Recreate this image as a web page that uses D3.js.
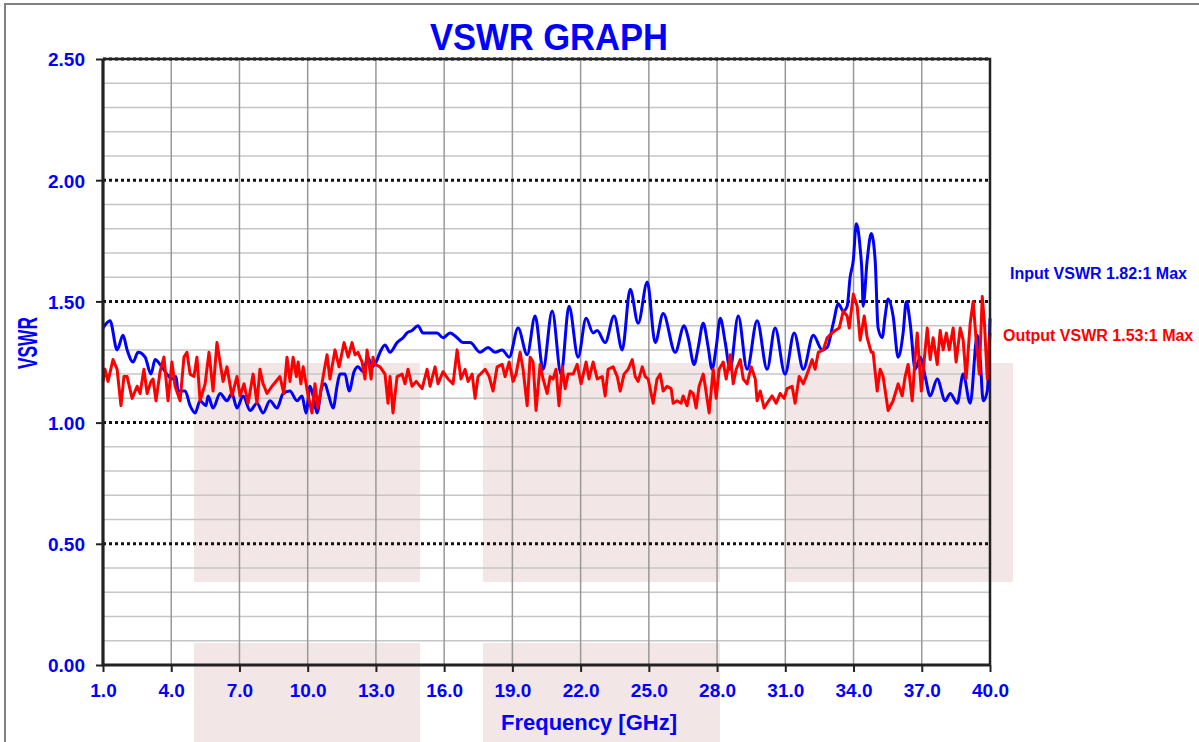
<!DOCTYPE html>
<html>
<head>
<meta charset="utf-8">
<script src="https://cdn.jsdelivr.net/npm/d3@7"></script>
<style>
  body { margin: 0; background: #fff; }
  text { font-family: "Liberation Sans", Arial, sans-serif; font-weight: bold; }
</style>
</head>
<body>
<svg id="chart" width="1199" height="742"></svg>
<script>
// tick values
const xTicks = [1, 4, 7, 10, 13, 16, 19, 22, 25, 28, 31, 34, 37, 40]
const yMajor = [0, 0.5, 1.0, 1.5, 2.0, 2.5]
const yMinor = [0.1, 0.2, 0.3, 0.4, 0.6, 0.7, 0.8, 0.9, 1.1, 1.2, 1.3, 1.4, 1.6, 1.7, 1.8, 1.9, 2.1, 2.2, 2.3, 2.4]

// Input VSWR (blue) - frequency [GHz] / vswr
const inputFreq = [1.00,1.31,1.62,1.88,2.06,2.32,2.54,2.85,3.11,3.29,3.51,3.81,4.03,4.21,4.30,4.61,4.83,5.05,5.27,5.53,
  5.62,5.84,6.15,6.45,6.67,6.89,7.16,7.47,7.77,8.04,8.34,8.65,8.92,9.22,9.53,9.75,9.93,10.10,10.24,10.41,
  10.63,10.76,10.90,11.12,11.29,11.42,11.64,11.82,12.04,12.21,12.43,12.65,12.83,13.01,13.18,13.40,13.62,13.93,14.19,14.37,
  14.59,14.85,15.07,15.38,15.69,15.95,16.26,16.57,16.83,17.14,17.58,17.93,18.24,18.55,18.86,19.25,19.65,20.00,20.35,20.75,
  21.14,21.49,21.89,22.24,22.55,22.73,23.08,23.47,23.83,24.18,24.53,24.93,25.28,25.63,26.16,26.55,26.73,26.99,27.17,27.39,
  27.61,27.78,27.96,28.14,28.36,28.57,28.93,29.32,29.76,30.20,30.55,30.99,31.39,31.79,32.23,32.62,32.84,33.11,33.33,33.55,
  33.72,33.85,33.99,34.12,34.29,34.38,34.42,34.60,34.78,34.95,35.08,35.26,35.39,35.52,35.74,35.96,36.18,36.32,36.49,36.71,
  36.93,37.15,37.37,37.68,38.03,38.25,38.56,38.82,39.13,39.44,39.57,39.70,39.88,40.00]
const inputVswr = [1.39,1.42,1.30,1.36,1.30,1.25,1.29,1.27,1.20,1.26,1.24,1.20,1.18,1.19,1.13,1.13,1.07,1.04,1.09,1.07,
  1.11,1.06,1.12,1.09,1.12,1.06,1.11,1.05,1.08,1.04,1.09,1.06,1.12,1.13,1.09,1.11,1.04,1.15,1.11,1.04,
  1.15,1.16,1.12,1.06,1.15,1.20,1.20,1.13,1.21,1.23,1.21,1.27,1.23,1.25,1.29,1.32,1.29,1.33,1.35,1.37,
  1.38,1.40,1.37,1.37,1.37,1.35,1.37,1.35,1.33,1.33,1.29,1.31,1.29,1.30,1.27,1.39,1.28,1.44,1.22,1.46,
  1.20,1.48,1.27,1.43,1.37,1.38,1.33,1.44,1.30,1.55,1.41,1.58,1.33,1.45,1.29,1.40,1.35,1.24,1.31,1.41,
  1.31,1.22,1.31,1.43,1.33,1.22,1.44,1.22,1.42,1.22,1.39,1.20,1.37,1.22,1.36,1.30,1.31,1.41,1.49,1.46,
  1.48,1.60,1.67,1.82,1.72,1.60,1.48,1.67,1.78,1.67,1.39,1.35,1.44,1.51,1.44,1.27,1.37,1.50,1.41,1.22,
  1.27,1.19,1.11,1.18,1.09,1.12,1.08,1.20,1.08,1.36,1.26,1.09,1.13,1.43]

// Output VSWR (red)
const outputFreq = [1.00,1.09,1.22,1.44,1.62,1.79,1.92,2.06,2.28,2.50,2.63,2.80,2.94,3.11,3.20,3.33,3.51,3.68,3.86,4.03,
  4.17,4.39,4.56,4.69,4.83,5.00,5.13,5.27,5.49,5.66,5.84,6.01,6.28,6.45,6.67,6.89,7.03,7.20,7.38,7.60,
  7.77,7.90,8.04,8.21,8.43,8.78,8.95,9.09,9.22,9.36,9.50,9.58,9.70,9.80,10.02,10.19,10.32,10.45,10.68,10.85,
  10.98,11.20,11.38,11.60,11.78,11.95,12.08,12.21,12.39,12.52,12.61,12.79,12.87,12.96,13.18,13.40,13.53,13.62,13.75,13.93,
  14.15,14.28,14.41,14.59,14.77,15.03,15.25,15.38,15.60,15.73,15.95,16.17,16.39,16.57,16.74,16.92,17.05,17.23,17.36,17.49,
  17.80,17.98,18.15,18.33,18.55,18.68,18.86,19.03,19.16,19.34,19.47,19.65,19.78,19.91,20.04,20.22,20.35,20.53,20.66,20.79,
  20.92,21.05,21.19,21.32,21.45,21.67,21.85,22.02,22.24,22.37,22.55,22.73,22.95,23.08,23.21,23.43,23.61,23.74,23.91,24.09,
  24.27,24.40,24.53,24.71,24.84,24.97,25.19,25.36,25.50,25.63,25.80,25.98,26.07,26.24,26.42,26.51,26.68,26.82,26.95,27.08,
  27.21,27.39,27.48,27.65,27.83,27.96,28.09,28.27,28.40,28.58,28.71,28.84,29.02,29.15,29.32,29.50,29.68,29.76,29.90,30.07,
  30.20,30.42,30.60,30.77,30.95,31.08,31.30,31.43,31.61,31.79,31.96,32.18,32.31,32.45,32.67,32.84,33.06,33.19,33.37,33.55,
  33.72,33.81,33.99,34.16,34.29,34.47,34.60,34.78,34.86,35.04,35.17,35.30,35.52,35.74,35.96,36.14,36.27,36.40,36.58,36.71,
  36.80,36.98,37.11,37.24,37.37,37.50,37.68,37.81,37.94,38.08,38.21,38.38,38.51,38.69,38.82,38.95,39.13,39.26,39.40,39.53,
  39.66,39.75,39.88,40.00]
const outputVswr = [1.17,1.22,1.17,1.26,1.22,1.07,1.19,1.19,1.10,1.15,1.12,1.22,1.12,1.17,1.18,1.09,1.21,1.27,1.09,1.25,
  1.15,1.09,1.27,1.29,1.20,1.19,1.27,1.09,1.16,1.29,1.13,1.33,1.17,1.23,1.11,1.19,1.11,1.16,1.08,1.20,
  1.08,1.22,1.16,1.12,1.15,1.19,1.12,1.27,1.17,1.27,1.19,1.25,1.16,1.23,1.11,1.04,1.16,1.06,1.19,1.28,
  1.18,1.30,1.23,1.33,1.27,1.33,1.28,1.29,1.25,1.18,1.30,1.18,1.27,1.24,1.23,1.20,1.08,1.19,1.04,1.19,
  1.20,1.16,1.22,1.15,1.17,1.14,1.22,1.15,1.23,1.16,1.21,1.18,1.16,1.30,1.18,1.22,1.17,1.20,1.10,1.19,
  1.22,1.19,1.13,1.23,1.24,1.19,1.25,1.17,1.20,1.29,1.22,1.07,1.27,1.25,1.05,1.24,1.18,1.12,1.19,1.18,
  1.22,1.07,1.23,1.14,1.20,1.20,1.24,1.16,1.25,1.18,1.25,1.18,1.19,1.11,1.22,1.23,1.19,1.13,1.20,1.22,
  1.26,1.19,1.17,1.23,1.19,1.18,1.08,1.18,1.20,1.13,1.15,1.14,1.08,1.09,1.08,1.11,1.07,1.13,1.12,1.06,
  1.15,1.20,1.15,1.04,1.22,1.10,1.22,1.25,1.18,1.28,1.16,1.22,1.26,1.18,1.16,1.23,1.18,1.09,1.13,1.06,
  1.08,1.11,1.08,1.12,1.10,1.14,1.15,1.08,1.19,1.16,1.20,1.26,1.22,1.29,1.30,1.35,1.37,1.38,1.39,1.46,
  1.44,1.39,1.53,1.48,1.34,1.44,1.35,1.29,1.29,1.13,1.22,1.19,1.05,1.09,1.16,1.11,1.19,1.24,1.09,1.27,
  1.37,1.13,1.26,1.39,1.26,1.35,1.24,1.38,1.30,1.37,1.30,1.39,1.25,1.39,1.34,1.18,1.41,1.50,1.33,1.20,
  1.52,1.42,1.18,1.37]

const inputLabel = "Input VSWR 1.82:1 Max"
const outputLabel = "Output VSWR 1.53:1 Max"

const blue = "#0000ff", red = "#ff0000"

const svg = d3.select("#chart")

const x = d3.scaleLinear().domain([1, 40]).range([103, 990])
const y = d3.scaleLinear().domain([0, 2.5]).range([665, 59])

// outer chart frame
svg.append("rect")
  .attr("x", 5).attr("y", 4).attr("width", 1300).attr("height", 800)
  .attr("fill", "#fff").attr("stroke", "#808080").attr("stroke-width", 2)

// faint watermark blocks behind the plot
const wm = svg.append("g").attr("fill", "#f3e6e6")
;[[194, 363, 226, 219], [194, 643, 226, 110], [483, 363, 237, 219], [483, 643, 237, 110], [785, 363, 228, 219]]
  .forEach(r => wm.append("rect").attr("x", r[0]).attr("y", r[1]).attr("width", r[2]).attr("height", r[3]))

const grid = svg.append("g")

grid.selectAll(".minor")
  .data(yMinor)
  .join("line")
  .attr("x1", x(1)).attr("x2", x(40))
  .attr("y1", d => y(d)).attr("y2", d => y(d))
  .attr("stroke", "#c6c6c6").attr("stroke-width", 1.5)

grid.selectAll(".vert")
  .data(xTicks.slice(1, -1))
  .join("line")
  .attr("x1", d => x(d)).attr("x2", d => x(d))
  .attr("y1", y(0)).attr("y2", y(2.5))
  .attr("stroke", "#999").attr("stroke-width", 1.5)

grid.selectAll(".major")
  .data(yMajor.slice(1))
  .join("line")
  .attr("x1", x(1)).attr("x2", x(40))
  .attr("y1", d => y(d)).attr("y2", d => y(d))
  .attr("stroke", "#111").attr("stroke-width", 3)
  .attr("stroke-dasharray", "3,3")

// data lines
const blueLine = d3.line()
  .x(d => x(d[0])).y(d => y(d[1]))
  .curve(d3.curveMonotoneX)
const redLine = d3.line()
  .x(d => x(d[0])).y(d => y(d[1]))

svg.append("path")
  .datum(inputFreq.map((f, i) => [f, inputVswr[i]]))
  .attr("d", blueLine)
  .attr("fill", "none").attr("stroke", blue).attr("stroke-width", 3)
  .attr("stroke-linejoin", "round")

svg.append("path")
  .datum(outputFreq.map((f, i) => [f, outputVswr[i]]))
  .attr("d", redLine)
  .attr("fill", "none").attr("stroke", red).attr("stroke-width", 3)
  .attr("stroke-linejoin", "round")

// plot frame
svg.append("path")
  .attr("d", `M${x(1)},${y(2.5)}H${x(40)}V${y(0)}`)
  .attr("fill", "none").attr("stroke", "#222").attr("stroke-width", 2.5)
svg.append("path")
  .attr("d", `M${x(1)},${y(2.5)}V${y(0)}H${x(40)}`)
  .attr("fill", "none").attr("stroke", "#222").attr("stroke-width", 3.2)

// axes
const yAxis = svg.append("g")
  .attr("transform", `translate(${x(1)},0)`)
  .call(d3.axisLeft(y).tickValues(yMajor).tickFormat(d3.format(".2f")).tickSize(7).tickPadding(11))
yAxis.select(".domain").remove()
yAxis.selectAll(".tick line").attr("stroke", "#222").attr("stroke-width", 2)
yAxis.selectAll(".tick text").attr("fill", blue).style("font-size", "19px").attr("dy", "0.36em")

const xAxis = svg.append("g")
  .attr("transform", `translate(0,${y(0)})`)
  .call(d3.axisBottom(x).tickValues(xTicks).tickFormat(d3.format(".1f")).tickSize(7).tickPadding(12))
xAxis.select(".domain").remove()
xAxis.selectAll(".tick line").attr("stroke", "#222").attr("stroke-width", 2)
xAxis.selectAll(".tick text").attr("fill", blue).style("font-size", "19px")

// titles
svg.append("text")
  .attr("x", 549).attr("y", 50)
  .attr("text-anchor", "middle")
  .attr("fill", blue).style("font-size", "36px")
  .attr("textLength", 238).attr("lengthAdjust", "spacingAndGlyphs")
  .text("VSWR GRAPH")

svg.append("text")
  .attr("x", 589).attr("y", 730)
  .attr("text-anchor", "middle")
  .attr("fill", blue).style("font-size", "22px")
  .text("Frequency [GHz]")

svg.append("text")
  .attr("transform", "translate(37,343) rotate(-90)")
  .attr("text-anchor", "middle")
  .attr("fill", blue).style("font-size", "28px")
  .attr("textLength", 52).attr("lengthAdjust", "spacingAndGlyphs")
  .text("VSWR")

// series labels
svg.append("text")
  .attr("x", 1010).attr("y", 279)
  .attr("fill", blue).style("font-size", "16px")
  .text(inputLabel)

svg.append("text")
  .attr("x", 1003).attr("y", 341)
  .attr("fill", red).style("font-size", "16px")
  .text(outputLabel)
</script>
</body>
</html>
